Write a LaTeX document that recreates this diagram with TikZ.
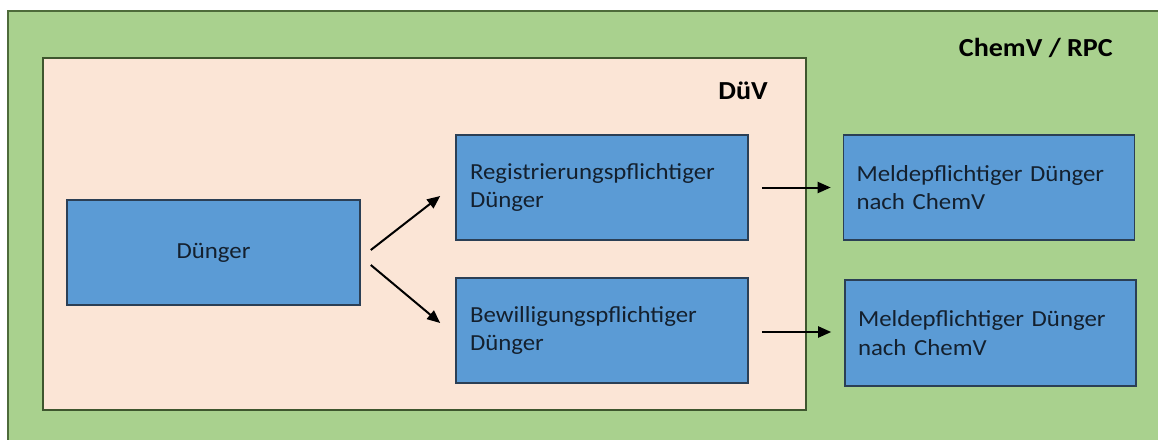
\documentclass[tikz,border=0pt]{standalone}
\usepackage{fontspec}
\setmainfont{Carlito}[FakeStretch=1.08]
\usetikzlibrary{arrows.meta}
\definecolor{bggreen}{HTML}{A9D18E}
\definecolor{bgborder}{HTML}{4E6B3A}
\definecolor{pinkbg}{HTML}{FBE5D6}
\definecolor{boxblue}{HTML}{5B9BD5}
\definecolor{boxborder}{HTML}{2B3F55}
\definecolor{txt}{HTML}{14202E}
\tikzset{
  bluebox/.style={draw=boxborder, line width=1.6pt, fill=boxblue, rectangle, text=txt,
    font=\fontsize{23}{28.5}\selectfont, minimum height=105pt},
  leftbox/.style={bluebox, align=left, inner xsep=14pt, text width=264pt},
  arr/.style={-{Triangle[length=13pt,width=11pt]}, line width=2pt, black},
  title/.style={font=\bfseries\fontsize{26}{30}\selectfont, inner sep=0pt, text=black}
}
\begin{document}
\begin{tikzpicture}[x=1pt,y=-1pt]
\useasboundingbox (0,0) rectangle (1158,439);
\clip (0,0) rectangle (1158,439);
\fill[white] (0,0) rectangle (1158,439);
\draw[bgborder, fill=bggreen, line width=1.6pt] (8,11) rectangle (1175,460);
\draw[bgborder!80!black, fill=pinkbg, line width=2pt] (43,58) rectangle (806,410);
\node[title, anchor=base east] (duv) at (768,99) {DüV};
\node[title, anchor=base east] (chemv) at (1113,56) {ChemV / RPC};
\node[bluebox, minimum width=293pt, inner sep=0pt] (d) at (213.5,252.5) {Dünger\hspace{14pt}};
\node[leftbox] (r) at (602,187.5) {Registrierungspflichtiger\\Dünger};
\node[leftbox] (b) at (602,330.5) {Bewilligungspflichtiger\\Dünger};
\node[leftbox, text width=265pt, inner xsep=13pt] (m1) at (989,187.5) {Meldepflichtiger Dünger\\nach ChemV};
\node[leftbox, text width=265pt, inner xsep=13pt, minimum height=106pt] (m2) at (990.5,333) {Meldepflichtiger Dünger\\nach ChemV};
\draw[arr] ([xshift=10pt,yshift=2.5pt]d.east) -- ([xshift=-15pt,yshift=-8.5pt]r.west);
\draw[arr] ([xshift=10pt,yshift=-12.5pt]d.east) -- ([xshift=-15pt,yshift=7.5pt]b.west);
\draw[arr] ([xshift=13pt]r.east) -- ([xshift=-12pt]m1.west);
\draw[arr] ([xshift=13pt,yshift=-1.5pt]b.east) -- ([xshift=-13pt,yshift=1pt]m2.west);
\end{tikzpicture}
\end{document}
